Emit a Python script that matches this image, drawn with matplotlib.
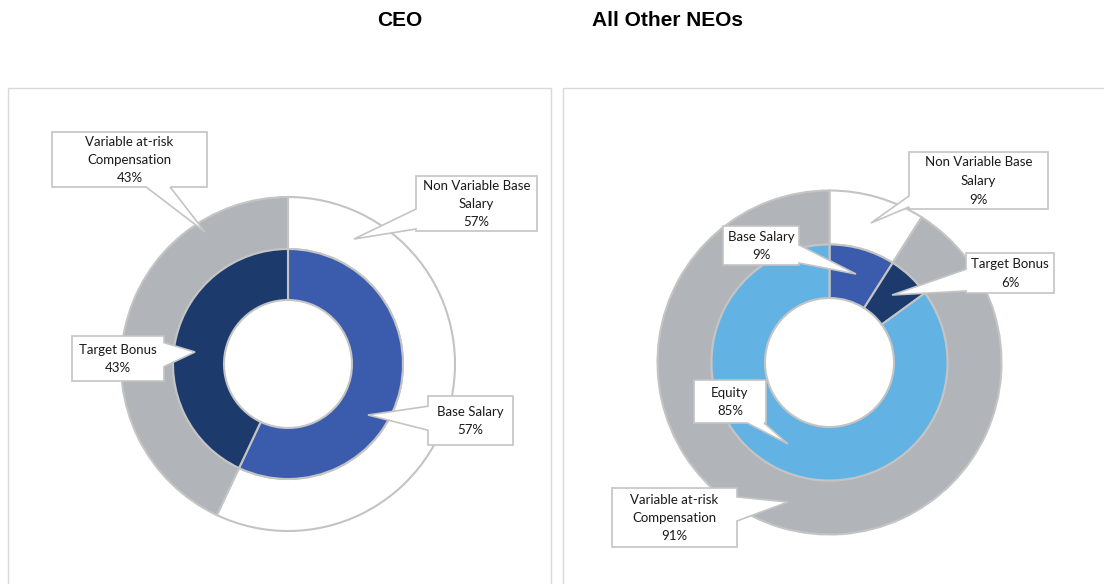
import numpy as np
import matplotlib.pyplot as plt
from matplotlib.patches import Rectangle, Polygon

# data
ceo_outer_labels = ['Non Variable Base\nSalary', 'Variable at-risk\nCompensation']
ceo_outer = [57, 43]
ceo_inner_labels = ['Base Salary', 'Target Bonus']
ceo_inner = [57, 43]

neo_outer_labels = ['Non Variable Base\nSalary', 'Variable at-risk\nCompensation']
neo_outer = [9, 91]
neo_inner_labels = ['Base Salary', 'Target Bonus', 'Equity']
neo_inner = [9, 6, 85]

outer_colors = ['white', '#B1B4B9']
inner_colors = ['#3B5BAD', '#1C3B6C', '#62B2E3']
edge = '#C4C4C4'

W, H = 1104, 584
fig = plt.figure(figsize=(W / 100, H / 100), dpi=100)
ax = fig.add_axes([0, 0, 1, 1])

def donut(center, r_out, r_mid, r_hole, outer, inner):
    # y axis is flipped (pixel coords), so counterclock=True draws clockwise on screen
    ax.pie(outer, colors=outer_colors, radius=r_out, center=center,
           startangle=-90, counterclock=True,
           wedgeprops=dict(width=r_out - r_mid, edgecolor=edge, linewidth=1.5))
    ax.pie(inner, colors=inner_colors[:len(inner)], radius=r_mid, center=center,
           startangle=-90, counterclock=True,
           wedgeprops=dict(width=r_mid - r_hole, edgecolor=edge, linewidth=1.5))

def callout(box, tip, text, half=12):
    x0, y0, x1, y1 = box
    cx, cy = (x0 + x1) / 2, (y0 + y1) / 2
    dx, dy = tip[0] - cx, tip[1] - cy
    tx = (x1 - x0) / 2 / abs(dx) if dx else np.inf
    ty = (y1 - y0) / 2 / abs(dy) if dy else np.inf
    if tx < ty:
        yi = cy + dy * tx
        b1, b2 = max(y0 + 2, yi - half), min(y1 - 2, yi + half)
        if dx > 0:
            pts = [(x0, y0), (x1, y0), (x1, b1), tip, (x1, b2), (x1, y1), (x0, y1)]
        else:
            pts = [(x0, y0), (x1, y0), (x1, y1), (x0, y1), (x0, b2), tip, (x0, b1)]
    else:
        xi = cx + dx * ty
        b1, b2 = max(x0 + 2, xi - half), min(x1 - 2, xi + half)
        if dy > 0:
            pts = [(x0, y0), (x1, y0), (x1, y1), (b2, y1), tip, (b1, y1), (x0, y1)]
        else:
            pts = [(x0, y0), (b1, y0), tip, (b2, y0), (x1, y0), (x1, y1), (x0, y1)]
    ax.add_patch(Polygon(pts, closed=True, fc='white', ec=edge, lw=1.2, zorder=5))
    ax.text(cx, cy + 0.5, text, ha='center', va='center', fontsize=9.5, family='Lato',
            linespacing=1.65, color='#1a1a1a', zorder=6)

# panels
ax.add_patch(Rectangle((8, 88), 543, 600, fill=False, ec='#D9D9D9', lw=1))
ax.add_patch(Rectangle((563, 88), 700, 600, fill=False, ec='#D9D9D9', lw=1))

donut((288, 364), 167, 115, 64, ceo_outer, ceo_inner)
donut((829.5, 362.5), 172, 118, 64.5, neo_outer, neo_inner)

def pct(v):
    return f'{v}%'

# CEO callouts
callout((52, 132, 207, 187), (205, 232), ceo_outer_labels[1] + '\n' + pct(ceo_outer[1]))
callout((416, 176, 537, 231), (354, 239), ceo_outer_labels[0] + '\n' + pct(ceo_outer[0]))
callout((72, 336, 164, 381), (195, 352), ceo_inner_labels[1] + '\n' + pct(ceo_inner[1]))
callout((428, 396, 513, 445), (368, 415), ceo_inner_labels[0] + '\n' + pct(ceo_inner[0]))

# All other NEOs callouts
callout((909, 152, 1048, 209), (871, 223), neo_outer_labels[0] + '\n' + pct(neo_outer[0]))
callout((723, 226, 799, 265), (856, 274), neo_inner_labels[0] + '\n' + pct(neo_inner[0]))
callout((966, 253, 1054, 293), (892, 295), neo_inner_labels[1] + '\n' + pct(neo_inner[1]))
callout((694, 380, 766, 423), (788, 444), neo_inner_labels[2] + '\n' + pct(neo_inner[2]))
callout((612, 488, 737, 547), (788, 502), neo_outer_labels[1] + '\n' + pct(neo_outer[1]))

ax.set_xlim(0, W)
ax.set_ylim(H, 0)
ax.set_aspect('auto')
ax.axis('off')

fig.text(400 / W, 1 - 21 / H, 'CEO', ha='center', va='center', fontsize=15,
         fontweight='bold', family='Liberation Sans')
fig.text(668 / W, 1 - 21 / H, 'All Other NEOs', ha='center', va='center', fontsize=15,
         fontweight='bold', family='Liberation Sans')

fig.savefig('out.png', dpi=100, facecolor='white')
